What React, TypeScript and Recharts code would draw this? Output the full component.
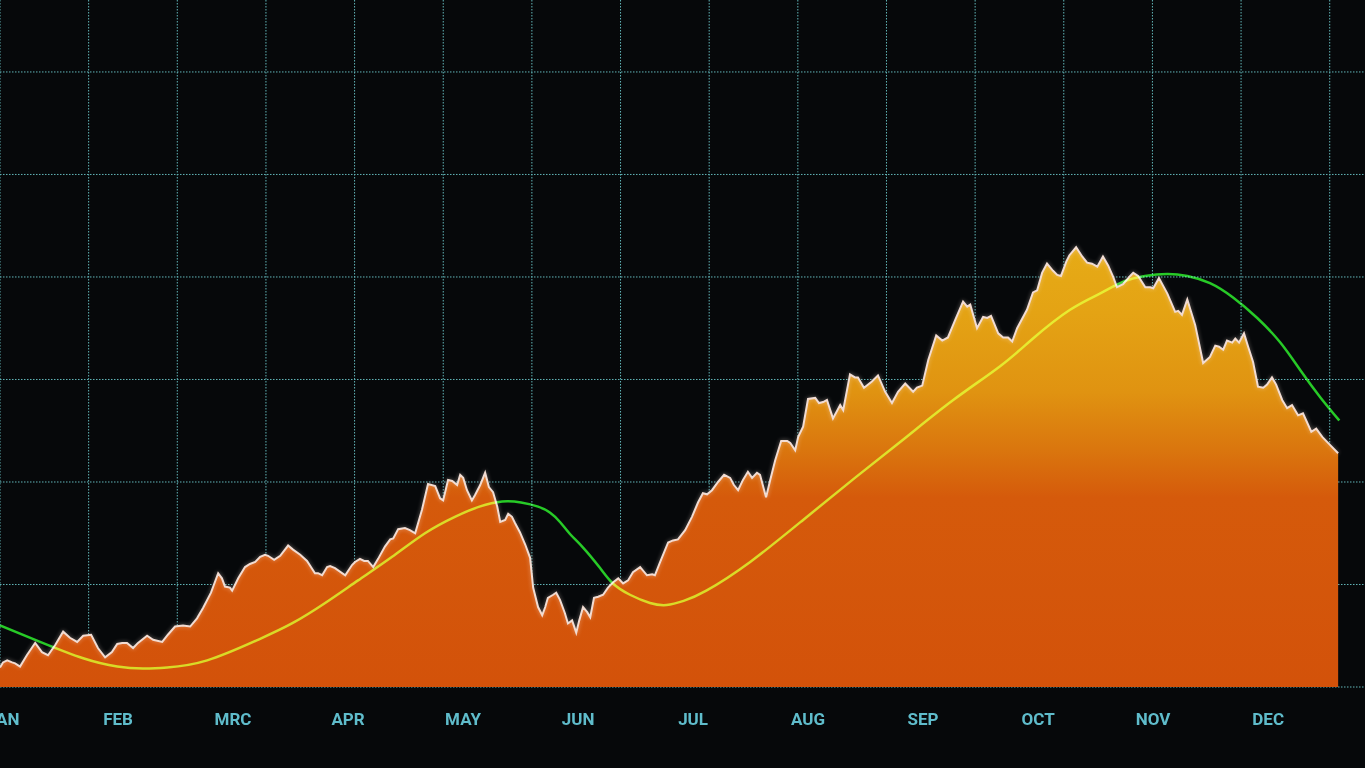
import React from 'react';
import { ComposedChart, Area, Line, XAxis, YAxis, CartesianGrid } from 'recharts';

// Month labels on the time axis (as printed in the chart)
const monthLabels = ['JAN', 'FEB', 'MRC', 'APR', 'MAY', 'JUN', 'JUL', 'AUG', 'SEP', 'OCT', 'NOV', 'DEC'];
const monthTicks = monthLabels.map((_, i) => (i * 365) / 12);

// Decorative grid: vertical columns (15.4 column widths across the plot), horizontal lines every 10 units
const gridColumns = [0, 1, 2, 3, 4, 5, 6, 7, 8, 9, 10, 11, 12, 13, 14, 15];
const gridColumnSpan = 15.398;
const valueGridTicks = [0, 10, 20, 30, 40, 50, 60];

// Noisy series: [day of year, value]
const priceSeries: [number, number][] = [
  [-0.8, 1.9], [0, 2.4], [1.1, 2.6], [2.4, 2.4], [3.2, 2.3], [4.5, 2.0], [6.3, 3.1], [8.5, 4.3],
  [10.3, 3.4], [11.9, 3.1], [13.8, 4.1], [15.9, 5.4], [17.7, 4.8], [19.6, 4.4], [21.2, 5.0], [23.3, 5.1],
  [25.1, 3.8], [27.0, 2.9], [28.8, 3.4], [30.2, 4.2], [31.5, 4.3], [32.8, 4.3], [34.4, 3.8], [35.7, 4.3],
  [38.1, 5.0], [39.7, 4.6], [42.1, 4.4], [43.6, 5.1], [45.5, 5.9], [47.6, 6.0], [49.5, 5.9], [51.3, 6.7],
  [52.9, 7.7], [55.0, 9.2], [56.9, 11.1], [57.9, 10.6], [58.7, 9.8], [60.0, 9.7], [60.6, 9.4], [62.2, 10.6],
  [64.0, 11.7], [65.3, 12.0], [66.7, 12.2], [68.0, 12.7], [69.3, 12.9], [70.1, 12.8], [71.7, 12.4], [73.3, 12.8],
  [75.4, 13.8], [76.7, 13.4], [78.6, 12.9], [80.4, 12.3], [82.5, 11.1], [83.3, 11.1], [84.4, 10.9], [85.7, 11.7],
  [86.5, 11.8], [87.8, 11.6], [90.5, 10.9], [92.3, 11.9], [93.1, 12.2], [94.4, 12.5], [95.5, 12.3], [96.5, 12.3],
  [97.9, 11.7], [99.2, 12.5], [101.0, 13.7], [102.4, 14.4], [103.2, 14.5], [104.5, 15.4], [106.3, 15.5], [107.6, 15.3],
  [109.0, 15.0], [110.8, 17.3], [112.4, 19.8], [114.3, 19.6], [115.6, 18.4], [116.4, 18.2], [117.7, 20.2], [118.8, 20.1],
  [120.1, 19.7], [120.9, 20.7], [121.7, 20.4], [122.7, 19.2], [124.0, 18.2], [124.8, 18.7], [126.2, 19.7], [127.5, 20.9],
  [128.5, 19.5], [129.6, 19.0], [130.7, 17.6], [131.5, 16.1], [132.8, 16.3], [133.6, 16.9], [134.6, 16.6], [135.4, 16.0],
  [136.7, 15.1], [138.1, 13.9], [139.4, 12.6], [140.2, 9.7], [141.5, 7.8], [142.6, 7.0], [143.4, 7.8], [144.1, 8.7],
  [145.5, 9.0], [146.3, 9.2], [147.3, 8.5], [148.6, 7.2], [149.4, 6.2], [150.5, 6.5], [151.6, 5.3], [152.4, 6.5],
  [153.4, 7.8], [154.5, 7.3], [155.3, 6.8], [156.3, 8.7], [157.4, 8.8], [158.7, 9.0], [160.0, 9.7], [161.3, 10.2],
  [162.7, 10.6], [164.0, 10.1], [165.3, 10.4], [166.6, 11.2], [168.5, 11.7], [170.3, 10.9], [171.7, 11.0], [172.4, 10.9],
  [173.8, 12.2], [175.9, 14.1], [177.2, 14.3], [178.5, 14.4], [180.4, 15.3], [182.2, 16.6], [183.8, 18.0], [185.1, 18.9],
  [186.2, 18.8], [187.5, 19.2], [189.1, 20.0], [190.7, 20.7], [192.3, 20.4], [193.3, 19.7], [194.4, 19.2], [195.7, 20.2],
  [197.0, 21.0], [198.1, 20.4], [199.4, 20.9], [200.2, 20.7], [201.8, 18.5], [202.9, 20.2], [204.2, 22.1], [205.8, 24.0],
  [207.4, 24.0], [208.2, 23.8], [209.5, 23.1], [210.3, 24.4], [211.6, 25.4], [212.9, 28.1], [214.8, 28.2], [215.8, 27.7],
  [216.9, 27.8], [217.9, 28.0], [219.5, 26.2], [221.4, 27.5], [222.2, 27.0], [224.0, 30.5], [225.3, 30.2], [226.1, 30.2],
  [227.7, 29.2], [229.8, 29.8], [231.4, 30.4], [233.3, 28.8], [235.1, 27.7], [236.7, 28.8], [238.6, 29.6], [240.7, 28.8],
  [241.7, 29.2], [243.1, 29.4], [244.7, 31.9], [246.8, 34.3], [248.4, 33.8], [249.9, 34.1], [251.8, 35.8], [253.9, 37.6],
  [255.0, 37.1], [255.8, 37.3], [257.6, 35.0], [259.2, 36.1], [260.3, 36.0], [261.3, 36.2], [263.2, 34.5], [264.5, 34.1],
  [265.8, 34.1], [266.9, 33.7], [268.2, 35.0], [270.8, 36.8], [272.4, 38.5], [273.5, 38.7], [274.8, 40.4], [276.1, 41.3],
  [277.7, 40.6], [278.8, 40.2], [279.8, 40.1], [281.2, 41.5], [282.0, 42.1], [283.8, 42.9], [285.4, 42.0], [286.7, 41.4],
  [288.0, 41.3], [289.4, 41.0], [290.9, 42.0], [292.3, 41.1], [293.6, 40.0], [294.6, 39.0], [296.2, 39.3], [298.1, 40.1],
  [298.9, 40.4], [300.2, 40.1], [302.1, 39.0], [303.4, 39.0], [304.2, 38.9], [305.7, 39.9], [307.9, 38.4], [310.0, 36.6],
  [310.8, 36.7], [311.8, 36.3], [313.2, 37.8], [315.3, 35.3], [317.4, 31.6], [319.2, 32.2], [320.6, 33.3], [321.6, 33.2],
  [322.7, 32.9], [323.7, 33.8], [325.1, 33.6], [325.9, 34.0], [326.9, 33.6], [328.2, 34.5], [329.3, 33.2], [330.6, 31.7],
  [331.9, 29.3], [333.3, 29.2], [334.3, 29.5], [335.6, 30.2], [336.7, 29.5], [338.3, 28.0], [339.6, 27.2], [340.9, 27.5],
  [342.5, 26.5], [343.8, 26.7], [346.0, 24.9], [347.3, 25.2], [348.9, 24.4], [351.0, 23.6], [353.1, 22.8],
];

// Smooth trend curve: [day of year, value]
const trendSeries: [number, number][] = [
  [-0.8, 6.0], [9.8, 4.4], [21.2, 2.8], [30.2, 2.0], [37.0, 1.8],
  [43.4, 1.9], [54.0, 2.6], [67.4, 4.6], [76.4, 6.2], [85.2, 8.2], [93.9, 10.4],
  [102.9, 12.7], [111.6, 15.0], [119.5, 16.6], [126.0, 17.6], [132.0, 18.1], [137.0, 18.0], [141.5, 17.6],
  [144.7, 17.0], [147.3, 16.1], [150.0, 14.9], [153.4, 13.6], [157.9, 11.6], [161.3, 10.1], [165.8, 9.0],
  [171.1, 8.2], [175.5, 8.0], [180.0, 8.4], [186.0, 9.4], [197.6, 12.2], [211.6, 16.3], [225.3, 20.4],
  [238.6, 24.3], [251.3, 28.0], [263.7, 31.3], [272.4, 34.0], [282.2, 36.8], [290.2, 38.4], [296.0, 39.5],
  [302.0, 40.1], [307.9, 40.3], [313.2, 40.1], [319.2, 39.4], [325.3, 38.0], [331.7, 36.0], [337.8, 33.6],
  [343.1, 30.9], [348.3, 28.3], [353.4, 26.0],
];

const priceData = priceSeries.map(([day, value]) => ({ day, value }));
const trendData = trendSeries.map(([day, trend]) => ({ day, trend }));

const formatMonth = (v: number) => {
  const idx = monthTicks.findIndex((t) => Math.abs(t - v) < 0.01);
  return idx >= 0 ? monthLabels[idx] : '';
};

const verticalGrid = ({ offset }: any) =>
  gridColumns.map((k) => offset.left + (k * offset.width) / gridColumnSpan);

const horizontalGrid = ({ yAxis, offset }: any) => {
  const scale = yAxis && yAxis.scale;
  if (typeof scale === 'function') return valueGridTicks.map((v) => scale(v));
  const [lo, hi] = [0, 67.02];
  return valueGridTicks.map((v) => offset.top + offset.height * (1 - (v - lo) / (hi - lo)));
};

export default function App() {
  return (
    <div
      style={{
        position: 'fixed',
        left: 0,
        top: 0,
        width: 1365,
        height: 768,
        background: '#06080a',
        overflow: 'hidden',
      }}
    >
      <style>{`
        .trend-line path { mix-blend-mode: screen; }
        .price-area .recharts-area-curve { filter: drop-shadow(0 0 2px rgba(255,235,225,0.45)); }
      `}</style>
      <ComposedChart width={1365} height={768} margin={{ top: 0, right: 0, bottom: 0, left: 0 }}>
        <defs>
          <linearGradient id="areaFill" x1="0" y1="0" x2="0" y2="1">
            <stop offset="0" stopColor="#e6ab16" />
            <stop offset="0.15" stopColor="#e4a314" />
            <stop offset="0.33" stopColor="#e09311" />
            <stop offset="0.46" stopColor="#da760e" />
            <stop offset="0.57" stopColor="#d55a0b" />
            <stop offset="1" stopColor="#d3520a" />
          </linearGradient>
        </defs>
        <CartesianGrid
          stroke="#62b6b9"
          strokeDasharray="1.5 1.5"
          strokeWidth={1}
          fill="none"
          verticalCoordinatesGenerator={verticalGrid}
          horizontalCoordinatesGenerator={horizontalGrid}
        />
        <XAxis
          dataKey="day"
          type="number"
          domain={[-0.8, 360.2]}
          allowDataOverflow
          ticks={monthTicks}
          tickFormatter={formatMonth}
          interval={0}
          height={81}
          axisLine={false}
          tickLine={false}
          tickMargin={20}
          tick={{ fill: '#5fbccb', fontSize: 17, fontFamily: 'Roboto, sans-serif', fontWeight: 700 }}
        />
        <YAxis type="number" domain={[0, 67.02]} allowDataOverflow ticks={valueGridTicks} hide width={0} />
        <Area
          className="price-area"
          data={priceData}
          dataKey="value"
          type="linear"
          stroke="#f2dcd2"
          strokeWidth={2}
          fill="url(#areaFill)"
          fillOpacity={1}
          isAnimationActive={false}
          dot={false}
          activeDot={false}
        />
        <Line
          className="trend-line"
          data={trendData}
          dataKey="trend"
          type="natural"
          stroke="#22c81e"
          strokeWidth={2.5}
          dot={false}
          activeDot={false}
          isAnimationActive={false}
        />
      </ComposedChart>
    </div>
  );
}
